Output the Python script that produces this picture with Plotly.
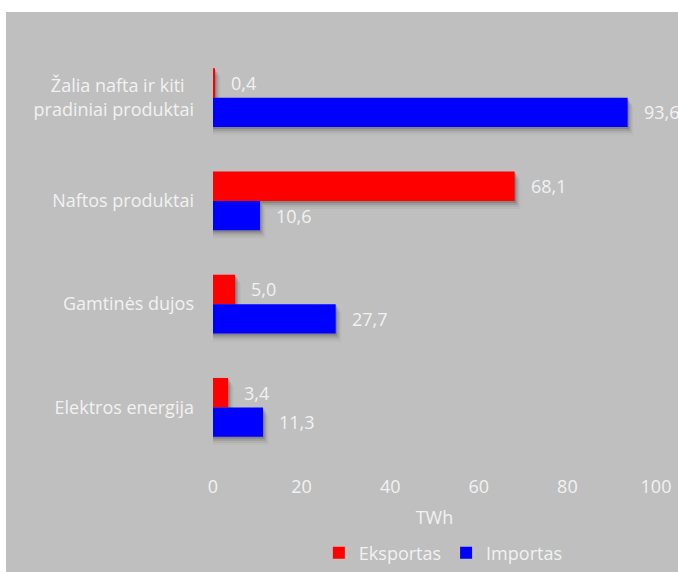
import plotly.graph_objects as go

categories = ["Žalia nafta ir kiti\u00a0\u00a0<br>pradiniai produktai", "Naftos produktai", "Gamtinės dujos", "Elektros energija"]
eksportas = [0.4, 68.1, 5.0, 3.4]
importas = [93.6, 10.6, 27.7, 11.3]
series_names = ["Eksportas", "Importas"]
colors = ["#ff0000", "#0000ff"]
x_ticks = [0, 20, 40, 60, 80, 100]

W, H = 678, 572
BG = "#bfbfbf"
TXT = "#f2f2f2"
FONT = "Open Sans, sans-serif"
FS = 18
margin = dict(l=213, r=22, t=46, b=113)
bargap = 0.43

fig = go.Figure()
for name, vals, col in zip(series_names, [eksportas, importas], colors):
    fig.add_trace(go.Bar(
        y=categories, x=vals, name=name, orientation="h",
        marker=dict(color=col, line=dict(width=0)),
        hoverinfo="skip",
    ))

plot_w = W - margin["l"] - margin["r"]
plot_h = H - margin["t"] - margin["b"]
px_per_x = plot_w / 100.0
px_per_cat = plot_h / len(categories)
bw = (1 - bargap) / 2
shapes = []
annotations = []

# gray background panel (white strip top/left)
shapes.append(dict(type="rect", xref="paper", yref="paper",
                   x0=(6 - margin["l"]) / plot_w, x1=2,
                   y0=-2, y1=1 + (margin["t"] - 12) / plot_h,
                   fillcolor=BG, line=dict(width=0), layer="below"))

for s, vals in enumerate([eksportas, importas]):
    for i, v in enumerate(vals):
        y_top = i - bw + s * bw
        y_bot = y_top + bw
        for k, op in [(2, 0.24), (4, 0.15), (6, 0.08), (8, 0.04)]:
            dy = k / px_per_cat
            dx = k / px_per_x
            shapes.append(dict(type="rect", xref="x", yref="y",
                               x0=0, x1=v + dx * 0.7, y0=y_top + dy, y1=y_bot + dy,
                               fillcolor="rgba(60,60,60,%s)" % op, line=dict(width=0),
                               layer="below"))
        annotations.append(dict(
            x=v, y=i, xref="x", yref="y",
            yshift=(bw / 2) * px_per_cat * (1 if s == 0 else -1),
            xshift=14, xanchor="left", yanchor="middle",
            text=f"{v:.1f}".replace(".", ","), showarrow=False,
            font=dict(color=TXT, size=FS, family=FONT),
        ))

fig.update_layout(
    width=W, height=H, margin=margin,
    paper_bgcolor="white", plot_bgcolor="rgba(0,0,0,0)",
    barmode="group", bargap=bargap, bargroupgap=0,
    font=dict(family=FONT, color=TXT, size=FS),
    xaxis=dict(range=[0, 100], tickvals=x_ticks, showgrid=False, zeroline=False,
               showline=False, ticks="", ticklabelstandoff=15, automargin=False,
               tickfont=dict(size=FS, color=TXT),
               title=dict(text="TWh", font=dict(size=FS, color=TXT), standoff=14),
               fixedrange=True),
    yaxis=dict(autorange="reversed", showgrid=False, zeroline=False, showline=False,
               ticks="", ticklabelstandoff=18, automargin=False,
               tickfont=dict(size=FS, color=TXT), fixedrange=True),
    legend=dict(orientation="h", x=0.52, xanchor="center", yref="container",
                y=(H - 553) / H, yanchor="middle",
                font=dict(size=FS, color=TXT), bgcolor="rgba(0,0,0,0)",
                itemwidth=30, traceorder="normal"),
    shapes=shapes, annotations=annotations,
    showlegend=True,
)

fig.write_html("out.html")
